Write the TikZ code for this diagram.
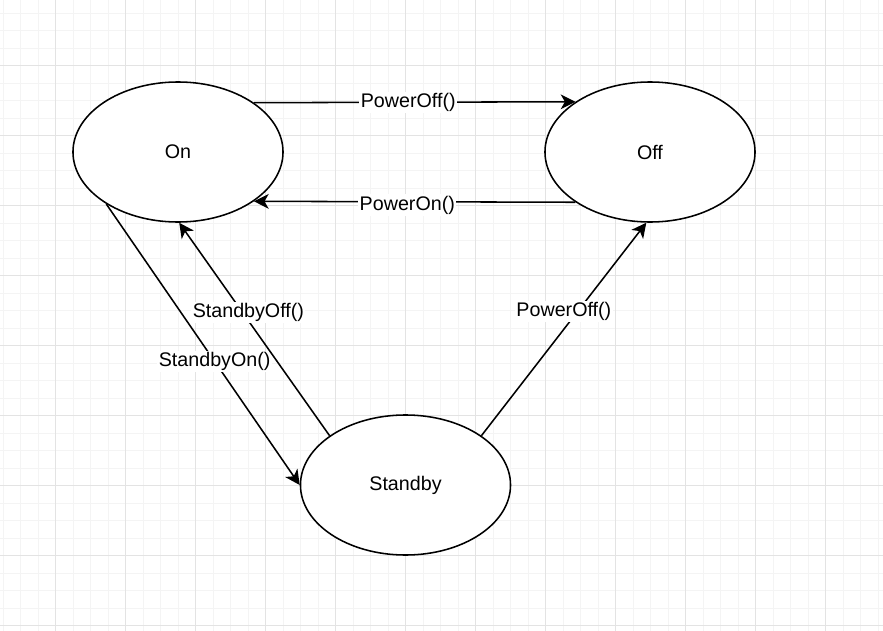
\documentclass[tikz,border=0pt]{standalone}
\usepackage{fontspec}
\setmainfont{Liberation Sans}
\usetikzlibrary{shapes.geometric,arrows.meta}
\begin{document}
\begin{tikzpicture}[x=0.025cm,y=-0.025cm,
  state/.style={ellipse,draw,line width=1.1pt,fill=white,minimum width=5.25cm,minimum height=3.5cm,inner sep=0pt,font=\fontsize{14}{17}\selectfont},
  trans/.style={-{Stealth[length=10.5pt,width=10.5pt,inset=3pt]},line width=1.1pt},
  lbl/.style={fill=white,inner sep=1pt,font=\fontsize{14}{17}\selectfont}]
\fill[white] (0,0) rectangle (883,631);
\useasboundingbox (0,0) rectangle (883,631);
% background grid
\foreach \x in {2.8,20.3,...,883} \draw[color=gray!9] (\x,0) -- (\x,631);
\foreach \y in {12.8,30.3,...,631} \draw[color=gray!9] (0,\y) -- (883,\y);
\foreach \x in {55.3,125.3,...,883} \draw[color=gray!22] (\x,0) -- (\x,631);
\foreach \y in {65.3,135.3,...,631} \draw[color=gray!22] (0,\y) -- (883,\y);
% states
\node[state] (on) at (178,152) {On};
\node[state] (off) at (650,152) {Off};
\node[state] (standby) at (405.5,485) {Standby};
% transitions
\draw[trans] (on.33.5) -- node[lbl,pos=0.48] {PowerOff()} (off.146.5);
\draw[trans] (off.-146.5) -- node[lbl,pos=0.523,yshift=-0.08cm] {PowerOn()} (on.-33.5);
\draw[trans] (on.216) -- node[lbl,pos=0.56] {StandbyOn()} (standby.180);
\draw[trans] (standby.147) -- node[lbl,pos=0.58,xshift=0.15cm] {StandbyOff()} (on.271.5);
\draw[trans] (standby.33.7) -- node[lbl,pos=0.585,xshift=-0.35cm] {PowerOff()} (off.267.5);
\end{tikzpicture}
\end{document}
